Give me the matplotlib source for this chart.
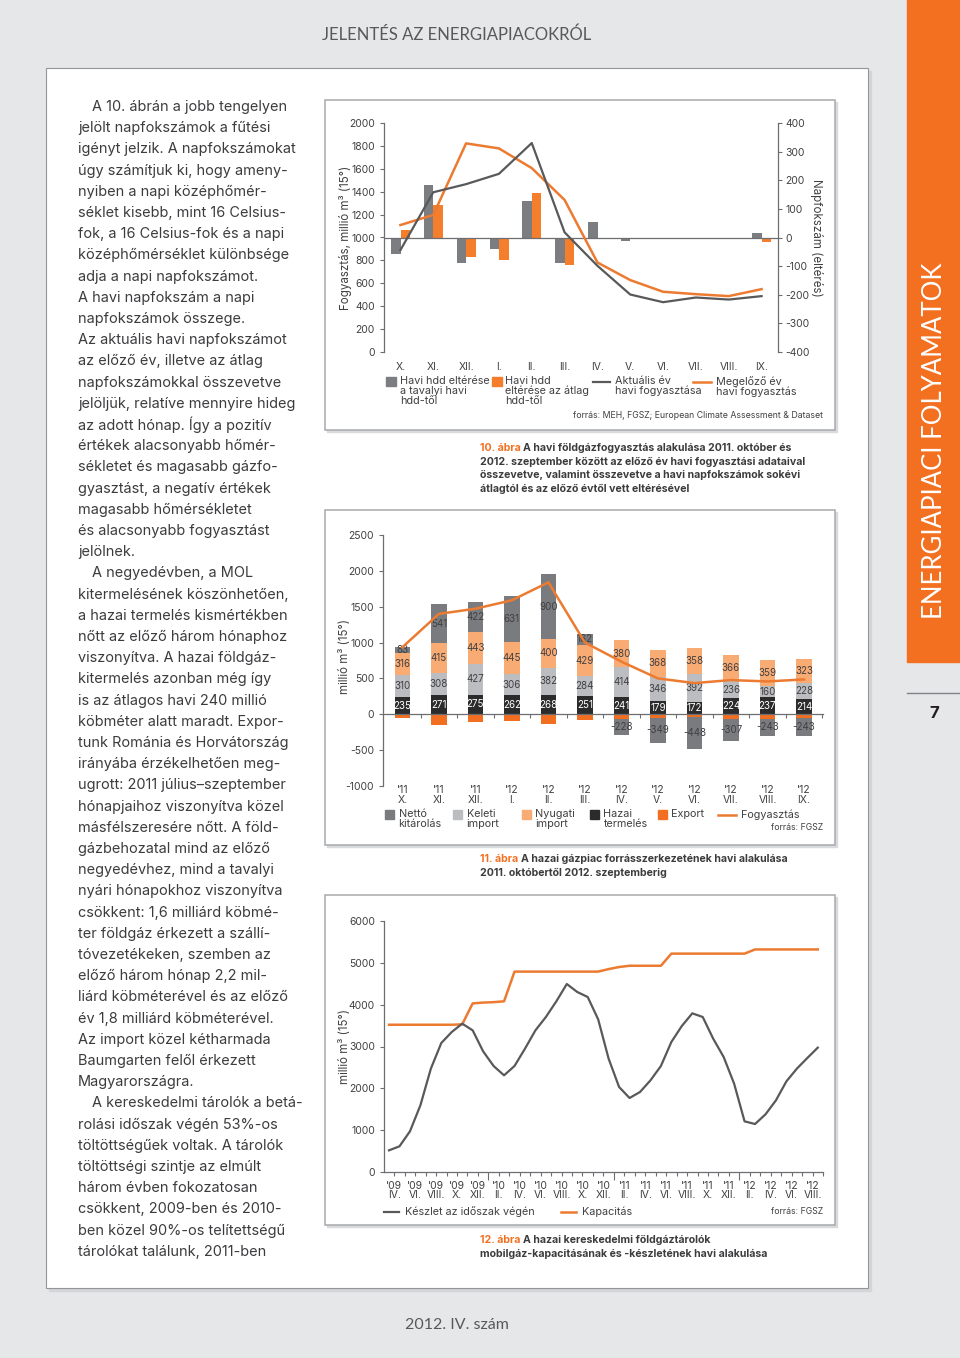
import matplotlib.pyplot as plt
import numpy as np
from matplotlib.patches import Rectangle
from matplotlib.transforms import blended_transform_factory

plt.rcParams['font.family'] = ['Inter', 'DejaVu Sans']
plt.rcParams['axes.unicode_minus'] = False

W, H = 960, 1358
ORANGE = '#f37021'
LORANGE = '#ec7b31'
GRAY = '#6d6e71'
TEXT = '#414042'

# 10. abra
honapok = ['X.', 'XI.', 'XII.', 'I.', 'II.', 'III.', 'IV.', 'V.', 'VI.', 'VII.', 'VIII.', 'IX.']
hdd_tavalyi = [-56, 184, -90, -41, 129, -90, 53, -12, 0, -1, -1, 14]
hdd_atlag = [26, 112, -69, -80, 154, -96, -1, -2, -6, -1, -2, -16]
aktualis_ev = [890, 1395, 1466, 1556, 1825, 1045, 753, 502, 435, 476, 458, 488]
megelozo_ev = [1109, 1197, 1822, 1778, 1606, 1328, 782, 628, 526, 505, 488, 549]

# 11. abra
forras_honapok = ["'11\nX.", "'11\nXI.", "'11\nXII.", "'12\nI.", "'12\nII.", "'12\nIII.",
                  "'12\nIV.", "'12\nV.", "'12\nVI.", "'12\nVII.", "'12\nVIII.", "'12\nIX."]
hazai = [235, 271, 275, 262, 268, 251, 241, 179, 172, 224, 237, 214]
keleti = [310, 308, 427, 306, 382, 284, 414, 346, 392, 236, 160, 228]
nyugati = [316, 415, 443, 445, 400, 429, 380, 368, 358, 366, 359, 323]
netto = [83, 541, 422, 631, 900, 162, -228, -349, -448, -307, -243, -243]
export = [-55, -145, -110, -90, -135, -85, -60, -45, -40, -60, -60, -55]
fogyasztas = [935, 1400, 1472, 1590, 1840, 1000, 734, 500, 435, 477, 458, 486]

# 12. abra (2009. IV. - 2012. IX., havi)
keszlet = [518, 614, 972, 1594, 2470, 3084, 3347, 3546, 3386, 2884, 2534, 2311,
           2534, 2948, 3386, 3705, 4080, 4494, 4303, 4183, 3649, 2709, 2032, 1769,
           1912, 2191, 2534, 3108, 3490, 3793, 3705, 3187, 2749, 2112, 1211, 1147,
           1378, 1713, 2167, 2470, 2725, 2972]
kapacitas = [3520, 3520, 3520, 3520, 3520, 3520, 3520, 3530, 4030, 4050, 4060, 4080,
             4790, 4790, 4790, 4790, 4790, 4790, 4790, 4790, 4790, 4850, 4900, 4930,
             4930, 4930, 4930, 5220, 5220, 5220, 5220, 5220, 5220, 5220, 5220, 5320,
             5320, 5320, 5320, 5320, 5320, 5320]
tarolo_cimkek = ["'09\nIV.", "'09\nVI.", "'09\nVIII.", "'09\nX.", "'09\nXII.", "'10\nII.",
                 "'10\nIV.", "'10\nVI.", "'10\nVIII.", "'10\nX.", "'10\nXII.", "'11\nII.",
                 "'11\nIV.", "'11\nVI.", "'11\nVIII.", "'11\nX.", "'11\nXII.", "'12\nII.",
                 "'12\nIV.", "'12\nVI.", "'12\nVIII."]

body = [
    "A 10. ábrán a jobb tengelyen", "jelölt napfokszámok a fűtési",
    "igényt jelzik. A napfokszámokat", "úgy számítjuk ki, hogy ameny-",
    "nyiben a napi középhőmér-", "séklet kisebb, mint 16 Celsius-",
    "fok, a 16 Celsius-fok és a napi", "középhőmérséklet különbsége",
    "adja a napi napfokszámot.", "A havi napfokszám a napi",
    "napfokszámok összege.", "Az aktuális havi napfokszámot",
    "az előző év, illetve az átlag", "napfokszámokkal összevetve",
    "jelöljük, relatíve mennyire hideg", "az adott hónap. Így a pozitív",
    "értékek alacsonyabb hőmér-", "sékletet és magasabb gázfo-",
    "gyasztást, a negatív értékek", "magasabb hőmérsékletet",
    "és alacsonyabb fogyasztást", "jelölnek.",
    "A negyedévben, a MOL", "kitermelésének köszönhetően,",
    "a hazai termelés kismértékben", "nőtt az előző három hónaphoz",
    "viszonyítva. A hazai földgáz-", "kitermelés azonban még így",
    "is az átlagos havi 240 millió", "köbméter alatt maradt. Expor-",
    "tunk Románia és Horvátország", "irányába érzékelhetően meg-",
    "ugrott: 2011 július–szeptember", "hónapjaihoz viszonyítva közel",
    "másfélszeresére nőtt. A föld-", "gázbehozatal mind az előző",
    "negyedévhez, mind a tavalyi", "nyári hónapokhoz viszonyítva",
    "csökkent: 1,6 milliárd köbmé-", "ter földgáz érkezett a szállí-",
    "tóvezetékeken, szemben az", "előző három hónap 2,2 mil-",
    "liárd köbméterével és az előző", "év 1,8 milliárd köbméterével.",
    "Az import közel kétharmada", "Baumgarten felől érkezett",
    "Magyarországra.", "A kereskedelmi tárolók a betá-",
    "rolási időszak végén 53%-os", "töltöttségűek voltak. A tárolók",
    "töltöttségi szintje az elmúlt", "három évben fokozatosan",
    "csökkent, 2009-ben és 2010-", "ben közel 90%-os telítettségű",
    "tárolókat találunk, 2011-ben",
]
indented = [0, 22, 47]


def px(l, t, r, b):
    return [l / W, 1 - b / H, (r - l) / W, (b - t) / H]


fig = plt.figure(figsize=(9.6, 13.58), dpi=100, facecolor='#e6e7e8')
bg = fig.add_axes([0, 0, 1, 1])
bg.set_xlim(0, W)
bg.set_ylim(H, 0)
bg.axis('off')

# page, sidebar
bg.add_patch(Rectangle((49, 71), 822, 1220, color='#d4d5d7', zorder=1))
bg.add_patch(Rectangle((46, 68), 822, 1220, facecolor='white', edgecolor='#939598', lw=0.8, zorder=2))
bg.add_patch(Rectangle((907, 0), 53, 662, color=ORANGE, zorder=2))
bg.text(934, 441, 'ENERGIAPIACI FOLYAMATOK', rotation=90, ha='center', va='center',
        color='white', fontsize=18.5, family=['Lato', 'DejaVu Sans'], zorder=3)
bg.plot([907, 960], [693, 693], color='#808285', lw=1)
bg.text(934, 713, '7', ha='center', va='center', fontsize=12, fontweight='bold', color='#231f20')
bg.text(457, 35, 'JELENTÉS AZ ENERGIAPIACOKRÓL', ha='center', va='center', fontsize=12,
        color='#58595b', family=['Lato', 'DejaVu Sans'])
bg.text(457, 1325, '2012. IV. szám', ha='center', va='center', fontsize=11.5,
        color='#58595b', family=['Lato', 'DejaVu Sans'])

# body text
for i, line in enumerate(body):
    x0 = 92 if i in indented else 78
    bg.text(x0, 107 + i * 21.2, line, ha='left', va='center', fontsize=10.45, color='#3c3c3e', zorder=3)

# chart boxes
for (l, t, w, h) in [(325, 100, 510, 330), (325, 510, 510, 335), (325, 895, 510, 330)]:
    bg.add_patch(Rectangle((l + 2, t + 2), w, h, color='#d9dadc', zorder=2))
    bg.add_patch(Rectangle((l, t), w, h, facecolor='white', edgecolor='#a7a9ac', lw=1.1, zorder=3))


def caption(y0, num, lines):
    t = bg.text(480, y0, num + ' ', ha='left', va='center', fontsize=7.6, fontweight='bold',
                color=ORANGE, zorder=4)
    bg.annotate(lines[0], xy=(1, 0), xycoords=t, ha='left', va='bottom', fontsize=7.6,
                fontweight='bold', color='#3c3c3e', zorder=4)
    for j, ln in enumerate(lines[1:]):
        bg.text(480, y0 + (j + 1) * 13.7, ln, ha='left', va='center', fontsize=7.6,
                fontweight='bold', color='#3c3c3e', zorder=4)


caption(448, '10. ábra', ['A havi földgázfogyasztás alakulása 2011. október és',
                          '2012. szeptember között az előző év havi fogyasztási adataival',
                          'összevetve, valamint összevetve a havi napfokszámok sokévi',
                          'átlagtól és az előző évtől vett eltérésével'])
caption(859, '11. ábra', ['A hazai gázpiac forrásszerkezetének havi alakulása',
                          '2011. októbertől 2012. szeptemberig'])
caption(1240, '12. ábra', ['A hazai kereskedelmi földgáztárolók',
                           'mobilgáz-kapacitásának és -készletének havi alakulása'])


def style(ax):
    ax.set_facecolor('none')
    for s in ['top', 'right', 'bottom']:
        ax.spines[s].set_visible(False)
    ax.spines['left'].set_color(GRAY)
    ax.spines['left'].set_linewidth(0.9)
    ax.tick_params(axis='y', labelsize=7.5, colors=TEXT, color=GRAY, length=3, width=0.8)


# ---- 10. abra
ax1 = fig.add_axes(px(384, 123, 778, 352))
ax1r = ax1.twinx()
x = np.arange(12)
ax1r.bar(x - 0.14, hdd_tavalyi, 0.29, color='#7c7d80')
ax1r.bar(x + 0.15, hdd_atlag, 0.29, color='#f47e2c')
ax1r.axhline(0, color=GRAY, lw=0.9)
ax1r.set_ylim(-400, 400)
ax1r.set_yticks(range(-400, 401, 100))
ax1.set_zorder(ax1r.get_zorder() + 1)
ax1.plot(x, megelozo_ev, color=LORANGE, lw=1.8)
ax1.plot(x, aktualis_ev, color='#58595b', lw=1.6)
ax1.set_xlim(-0.5, 11.5)
ax1.set_ylim(0, 2000)
ax1.set_yticks(range(0, 2001, 200))
style(ax1)
for s in ['top', 'left', 'bottom']:
    ax1r.spines[s].set_visible(False)
ax1r.spines['right'].set_color(GRAY)
ax1r.spines['right'].set_linewidth(0.9)
ax1r.tick_params(axis='y', labelsize=7.5, colors=TEXT, color=GRAY, length=3, width=0.8, pad=2.5)
ax1r.set_xticks([])
ax1.set_xticks(x, honapok)
ax1.tick_params(axis='x', length=0, pad=7, labelsize=7.5, colors=TEXT)
bg.text(345, 238, 'Fogyasztás, millió m³ (15°)', rotation=90, ha='center', va='center',
        fontsize=8.3, color=TEXT, zorder=4)
bg.text(817, 238, 'Napfokszám (eltérés)', rotation=-90, ha='center', va='center',
        fontsize=8.3, color=TEXT, zorder=4)

lg = dict(ha='left', va='top', fontsize=7.8, color=TEXT, linespacing=0.98, zorder=4)
bg.add_patch(Rectangle((386, 377), 10, 9, color='#7c7d80', zorder=4))
bg.text(400, 376, 'Havi hdd eltérése\na tavalyi havi\nhdd-től', **lg)
bg.add_patch(Rectangle((492, 377), 10, 9, color='#f47e2c', zorder=4))
bg.text(505, 376, 'Havi hdd\neltérése az átlag\nhdd-től', **lg)
bg.plot([593, 610], [382, 382], color='#58595b', lw=1.6, zorder=4)
bg.text(615, 376, 'Aktuális év\nhavi fogyasztása', **lg)
bg.plot([693, 711], [382, 382], color=LORANGE, lw=1.8, zorder=4)
bg.text(716, 376, 'Megelőző év\nhavi fogyasztás', **lg)
bg.text(823, 416, 'forrás: MEH, FGSZ; European Climate Assessment & Dataset', ha='right',
        va='center', fontsize=6.3, color=TEXT, zorder=4)

# ---- 11. abra
ax2 = fig.add_axes(px(383, 535, 823, 786))
style(ax2)
x2 = np.arange(12)
h = np.array(hazai)
k = np.array(keleti)
ny = np.array(nyugati)
n = np.array(netto)
e = np.array(export)
bw = 0.42
c_netto, c_kel, c_nyu, c_haz, c_exp = '#7a7b7e', '#bcbdc0', '#f9ab74', '#2b2b2b', '#f26f21'
pos_n = np.where(n > 0, n, 0)
neg_n = np.where(n < 0, n, 0)
ax2.bar(x2, h, bw, color=c_haz)
ax2.bar(x2, k, bw, bottom=h, color=c_kel)
ax2.bar(x2, ny, bw, bottom=h + k, color=c_nyu)
ax2.bar(x2, pos_n, bw, bottom=h + k + ny, color=c_netto)
ax2.bar(x2, e, bw, color=c_exp)
ax2.bar(x2, neg_n, bw, bottom=e, color=c_netto)
ax2.plot(x2, fogyasztas, color=LORANGE, lw=1.8, zorder=5)
lab = dict(ha='center', va='center', fontsize=7, family=['Liberation Sans Narrow', 'Inter'])
for i in range(12):
    ax2.text(i, h[i] / 2, str(h[i]), color='white', **lab)
    ax2.text(i, h[i] + k[i] / 2, str(k[i]), color=TEXT, **lab)
    ax2.text(i, h[i] + k[i] + ny[i] / 2, str(ny[i]), color=TEXT, **lab)
    if n[i] > 0:
        ax2.text(i, h[i] + k[i] + ny[i] + n[i] / 2, str(n[i]), color=TEXT, **lab)
    else:
        ax2.text(i, e[i] + n[i] / 2, str(n[i]), color=TEXT, **lab)
ax2.set_xlim(-0.53, 11.52)
ax2.set_ylim(-1000, 2500)
ax2.set_yticks(range(-1000, 2501, 500))
ax2.spines['bottom'].set_visible(True)
ax2.spines['bottom'].set_position(('data', 0))
ax2.spines['bottom'].set_color(GRAY)
ax2.spines['bottom'].set_linewidth(0.9)
ax2.set_xticks(x2 + 0.5)
ax2.tick_params(axis='x', labelbottom=False, length=3, color=GRAY, width=0.8)
tr2 = blended_transform_factory(ax2.transData, ax2.transAxes)
for i, lbl in enumerate(forras_honapok):
    ax2.text(i, 0.004, lbl, transform=tr2, ha='center', va='top', fontsize=7.5,
             color=TEXT, linespacing=0.95)
bg.text(345, 657, 'millió m³ (15°)', rotation=90, ha='center', va='center',
        fontsize=8.3, color=TEXT, zorder=4)

lg2 = dict(ha='left', va='top', fontsize=7.8, color=TEXT, linespacing=0.98, zorder=4)
for (sx, col, txt) in [(385, c_netto, 'Nettó\nkitárolás'), (453, c_kel, 'Keleti\nimport'),
                       (522, c_nyu, 'Nyugati\nimport'), (590, c_haz, 'Hazai\ntermelés'),
                       (658, c_exp, 'Export')]:
    bg.add_patch(Rectangle((sx, 810), 9, 9, color=col, zorder=4))
    bg.text(sx + 13.5, 809, txt, **lg2)
bg.plot([718, 736], [815, 815], color=LORANGE, lw=1.8, zorder=4)
bg.text(741, 809, 'Fogyasztás', **lg2)
bg.text(823, 828, 'forrás: FGSZ', ha='right', va='center', fontsize=6.3, color=TEXT, zorder=4)

# ---- 12. abra
ax3 = fig.add_axes(px(384, 921, 823, 1172))
style(ax3)
x3 = np.arange(len(keszlet))
ax3.plot(x3, kapacitas, color=LORANGE, lw=1.8)
ax3.plot(x3, keszlet, color='#58595b', lw=1.6)
ax3.set_xlim(-0.48, 41.5)
ax3.set_ylim(0, 6000)
ax3.set_yticks(range(0, 6001, 1000))
ax3.spines['bottom'].set_visible(True)
ax3.spines['bottom'].set_color(GRAY)
ax3.spines['bottom'].set_linewidth(0.9)
ax3.set_xticks([9.5, 21.5, 33.5])
ax3.set_xticks(x3 + 0.5, minor=True)
ax3.tick_params(axis='x', which='major', labelbottom=False, length=6, color=GRAY, width=0.8)
ax3.tick_params(axis='x', which='minor', length=3, color=GRAY, width=0.8)
tr3 = blended_transform_factory(ax3.transData, ax3.transAxes)
for j, lbl in enumerate(tarolo_cimkek):
    ax3.text(2 * j + 0.5, -0.035, lbl, transform=tr3, ha='center', va='top', fontsize=7.5,
             color=TEXT, linespacing=0.95)
bg.text(345, 1047, 'millió m³ (15°)', rotation=90, ha='center', va='center',
        fontsize=8.3, color=TEXT, zorder=4)
bg.plot([384, 399], [1212, 1212], color='#58595b', lw=1.6, zorder=4)
bg.text(405, 1212, 'Készlet az időszak végén', ha='left', va='center', fontsize=7.8, color=TEXT, zorder=4)
bg.plot([561, 576], [1212, 1212], color=LORANGE, lw=1.8, zorder=4)
bg.text(582, 1212, 'Kapacitás', ha='left', va='center', fontsize=7.8, color=TEXT, zorder=4)
bg.text(823, 1212, 'forrás: FGSZ', ha='right', va='center', fontsize=6.3, color=TEXT, zorder=4)

fig.savefig('out.png', dpi=100, facecolor=fig.get_facecolor())
